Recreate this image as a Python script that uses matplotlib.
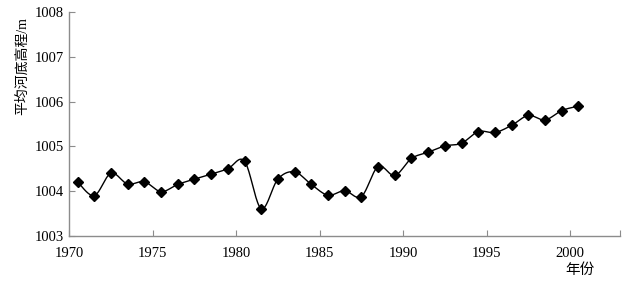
import numpy as np
import matplotlib
matplotlib.use("Agg")
import matplotlib.pyplot as plt

plt.rcParams['font.family'] = ['Liberation Serif', 'Noto Sans CJK SC', 'DejaVu Sans']

# 平均河底高程 (m), one value per year
years = np.arange(1970, 2001) + 0.5
elev = [1004.21, 1003.90, 1004.40, 1004.16, 1004.21, 1003.99, 1004.15, 1004.27,
        1004.38, 1004.50, 1004.67, 1003.61, 1004.27, 1004.43, 1004.15, 1003.91,
        1004.01, 1003.88, 1004.55, 1004.35, 1004.73, 1004.87, 1005.01, 1005.07,
        1005.33, 1005.31, 1005.47, 1005.69, 1005.59, 1005.80, 1005.90]
xticks = [1970, 1975, 1980, 1985, 1990, 1995, 2000, 2003]
xticklabels = ["1970", "1975", "1980", "1985", "1990", "1995", "2000", ""]
yticks = [1003, 1004, 1005, 1006, 1007, 1008]


def smooth(x, y, n=20, t=0.5):
    # Catmull-Rom style smoothing, similar to the spreadsheet "smoothed line"
    x = np.asarray(x, float)
    y = np.asarray(y, float)
    px = np.concatenate([[x[0]], x, [x[-1]]])
    py = np.concatenate([[y[0]], y, [y[-1]]])
    xs, ys = [], []
    for i in range(1, len(px) - 2):
        p0 = np.array([px[i], py[i]])
        p3 = np.array([px[i + 1], py[i + 1]])
        c1 = p0 + (np.array([px[i + 1], py[i + 1]]) - np.array([px[i - 1], py[i - 1]])) * t / 3
        c2 = p3 - (np.array([px[i + 2], py[i + 2]]) - np.array([px[i], py[i]])) * t / 3
        s = np.linspace(0, 1, n)[:, None]
        b = (1 - s) ** 3 * p0 + 3 * (1 - s) ** 2 * s * c1 + 3 * (1 - s) * s ** 2 * c2 + s ** 3 * p3
        xs.extend(b[:, 0])
        ys.extend(b[:, 1])
    return xs, ys


fig = plt.figure(figsize=(6.29, 2.86), dpi=100)
ax = fig.add_axes([0.110, 0.175, 0.876, 0.783])

sx, sy = smooth(years, elev)
ax.plot(sx, sy, color="black", lw=1.0, zorder=2)
ax.plot(years, elev, linestyle="none", marker="D", ms=5.5, color="black", zorder=3)

ax.set_xlim(1970, 2003)
ax.set_ylim(1003, 1008)
ax.set_xticks(xticks)
ax.set_xticklabels(xticklabels)
ax.set_yticks(yticks)

for side in ["top", "right"]:
    ax.spines[side].set_visible(False)
for side in ["left", "bottom"]:
    ax.spines[side].set_color("#8c8c8c")
    ax.spines[side].set_linewidth(1.0)
ax.tick_params(direction="in", length=4, color="#8c8c8c", labelsize=10.5)
ax.tick_params(axis="x", pad=8)
ax.tick_params(axis="y", pad=4)

ax.set_ylabel("平均河底高程/m", fontsize=10)
ax.yaxis.set_label_coords(-0.073, 0.76)
fig.text(580 / 629, 1 - 270 / 286, "年份", fontsize=10.5, ha="center", va="center")

plt.savefig("out.png", dpi=100)
